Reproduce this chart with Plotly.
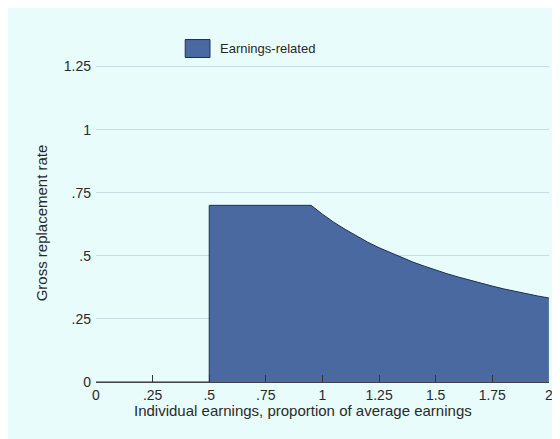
import plotly.graph_objects as go

# Data
earnings = [0, 0.5, 0.5, 0.95, 1.0, 1.05, 1.1, 1.15, 1.2, 1.25, 1.3, 1.35, 1.4,
            1.45, 1.5, 1.55, 1.6, 1.65, 1.7, 1.75, 1.8, 1.85, 1.9, 1.95, 2.0]
earnings_related = [0, 0, 0.7, 0.7, 0.665, 0.633, 0.605, 0.578, 0.554, 0.532,
                    0.512, 0.493, 0.475, 0.459, 0.443, 0.429, 0.416, 0.403,
                    0.391, 0.380, 0.369, 0.359, 0.350, 0.341, 0.333]
series_name = "Earnings-related"

x_tickvals = [0, 0.25, 0.5, 0.75, 1, 1.25, 1.5, 1.75, 2]
x_ticktext = ["0", ".25", ".5", ".75", "1", "1.25", "1.5", "1.75", "2"]
y_tickvals = [0, 0.25, 0.5, 0.75, 1, 1.25]
y_ticktext = ["0", ".25", ".5", ".75", "1", "1.25"]

FILL = "#4a69a0"
EDGE = "#1c2f5a"
BG = "#e8fcfc"
GRID = "#c6dde2"
TXT = "#2a2a2a"
FONT = "Liberation Sans, Arial, sans-serif"

fig = go.Figure()
fig.add_trace(go.Scatter(
    x=earnings, y=earnings_related, name=series_name,
    mode="lines", fill="tozeroy", fillcolor=FILL,
    line=dict(color=EDGE, width=1), showlegend=False, hoverinfo="x+y",
))

# page has an 8px body margin, so figure coordinates = page coordinates - 8
W, H = 552, 431
L, R, T, B = 88, 7, 55.5, 57
pw, ph = W - L - R, H - T - B

def px(xp):
    return (xp - 8 - L) / pw

def py(yp):
    return (H - B - (yp - 8)) / ph

shapes = [
    # legend key
    dict(type="rect", xref="paper", yref="paper", x0=px(186), x1=px(211),
         y0=py(57), y1=py(39), fillcolor=FILL, line=dict(color=EDGE, width=1)),
]

annotations = [
    dict(text=series_name, xref="paper", yref="paper", x=px(219), y=py(48),
         xanchor="left", yanchor="middle", showarrow=False,
         font=dict(size=13, color=TXT, family=FONT)),
    dict(text="Individual earnings, proportion of average earnings",
         xref="paper", yref="paper", x=px(305), y=py(411),
         xanchor="center", yanchor="middle", showarrow=False,
         font=dict(size=15, color=TXT, family=FONT)),
]

fig.update_layout(
    width=W, height=H,
    margin=dict(l=L, r=R, t=T, b=B, pad=0),
    paper_bgcolor=BG, plot_bgcolor="rgba(0,0,0,0)",
    font=dict(family=FONT, size=14, color=TXT),
    shapes=shapes, annotations=annotations,
    showlegend=False,
    xaxis=dict(
        range=[0, 2.0005], tickvals=x_tickvals, ticktext=x_ticktext,
        showgrid=False, zeroline=False, showline=True, linecolor="#444",
        linewidth=1, ticks="inside", ticklen=7, tickcolor="#333",
        tickfont=dict(size=14, color=TXT), fixedrange=True,
    ),
    yaxis=dict(
        range=[0, 1.26], tickvals=y_tickvals, ticktext=y_ticktext,
        showgrid=True, gridcolor=GRID, gridwidth=1, zeroline=False,
        showline=False, ticks="", ticklabelstandoff=4,
        tickfont=dict(size=14, color=TXT), fixedrange=True,
        title=dict(text="Gross replacement rate", font=dict(size=15, color=TXT),
                   standoff=12),
    ),
)

fig.write_html("out.html")
